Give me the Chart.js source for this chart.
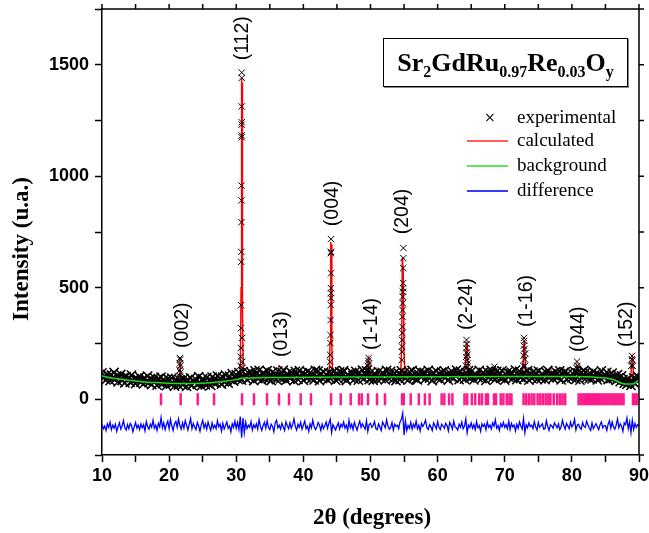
<!DOCTYPE html>
<html>
<head>
<meta charset="utf-8">
<script src="https://cdn.jsdelivr.net/npm/chart.js@4.4.0/dist/chart.umd.min.js"></script>
<style>
  body { margin: 0; background: #fff; }
  #wrap { position: relative; width: 649px; height: 533px; }
  #formula {
    position: absolute; left: 383px; top: 38px; width: 243px; height: 47px;
    border: 1px solid #000; box-shadow: 1px 1px 0 #888;
    font-family: 'Liberation Serif', serif; font-weight: bold; font-size: 26px;
    line-height: 47px; text-align: center; color: #000; background: #fff;
  }
  #formula sub { font-size: 16px; vertical-align: -6px; line-height: 0; }
  .leg { position: absolute; left: 440px; width: 200px; height: 20px;
    font-family: 'Liberation Serif', serif; font-size: 19px; color: #000; }
  .leg .txt { position: absolute; left: 77px; top: 0; line-height: 20px; }
  .leg .ln { position: absolute; left: 27px; top: 10px; width: 41px; height: 2px; }
  .leg .mk { position: absolute; left: 44px; top: 0; line-height: 20px; font-family: 'DejaVu Sans', sans-serif; font-size: 14px; }
</style>
</head>
<body>
<div id="wrap">
  <canvas id="xrd" width="649" height="533"></canvas>
  <div id="formula">Sr<sub>2</sub>GdRu<sub>0.97</sub>Re<sub>0.03</sub>O<sub>y</sub></div>
  <div class="leg" style="top:107px"><span class="mk">×</span><span class="txt">experimental</span></div>
  <div class="leg" style="top:130px"><span class="ln" style="background:#ff5c5c"></span><span class="txt">calculated</span></div>
  <div class="leg" style="top:155px"><span class="ln" style="background:#5ce65c"></span><span class="txt">background</span></div>
  <div class="leg" style="top:180px"><span class="ln" style="background:#3a3aff"></span><span class="txt">difference</span></div>
</div>
<script>
// 2theta 샘플링 (10 ~ 90도, 0.2도 간격)
const thetaStart = 10;
const thetaStep = 0.2;

// 실험 데이터 (배경 영역, 0.2도 간격)
const expCounts = [
  118, 95, 104, 87, 112,  101, 83, 109, 96, 120,  90, 105, 78, 99, 111,  84, 97, 73, 102, 89,
  95, 76, 108, 82, 91,  70, 93, 86, 101, 77,  88, 69, 95, 80, 104,  75, 91, 66, 84, 97,
  81, 63, 92, 74, 99,  70, 88, 79, 61, 93,  84, 68, 95, 72, 59,  90, 74, 63, 86, 77,
  65, 93, 79, 58, 88,  71, 96, 62, 83, 75,  88, 67, 101, 74, 60,  92, 79, 64, 97, 70,
  85, 62, 99, 76, 91,  73, 104, 80, 95, 68,  99, 78, 108, 86, 72,  104, 88, 115, 81, 97,
  110, 91, 119, 96, 86,  124, 99, 112, 88, 118,  96, 121, 105, 84, 127,  112, 93, 130, 101, 86,
  118, 95, 109, 128, 90,  103, 84, 122, 97, 113,  88, 126, 104, 92, 119,  131, 98, 85, 115, 102,
  94, 120, 107, 83, 125,  110, 89, 128, 99, 116,  85, 113, 96, 124, 102,  119, 92, 108, 87, 129,
  101, 126, 83, 114, 95,  122, 97, 111, 88, 118,  93, 115, 104, 127, 86,  109, 90, 123, 100, 117,
  128, 95, 84, 112, 103,  96, 121, 107, 89, 125,  113, 86, 118, 99, 131,  92, 110, 127, 104, 88,
  120, 98, 85, 116, 106,  89, 124, 101, 93, 119,  112, 87, 129, 97, 108,  125, 103, 91, 118, 84,
  99, 116, 88, 127, 105,  118, 94, 109, 86, 123,  102, 129, 96, 113, 90,  87, 111, 124, 99, 117,
  121, 92, 106, 130, 95,  108, 84, 119, 101, 126,  93, 115, 89, 122, 104,  127, 98, 112, 86, 118,
  100, 123, 94, 109, 131,  115, 88, 126, 97, 107,  90, 119, 103, 128, 96,  124, 101, 87, 114, 109,
  97, 130, 106, 92, 120,  111, 85, 123, 100, 116,  129, 96, 108, 89, 125,  103, 118, 94, 127, 98,
  86, 112, 121, 99, 115,  120, 93, 105, 131, 88,  107, 126, 97, 113, 91,  117, 99, 128, 86, 110,
  95, 122, 104, 118, 89,  126, 102, 91, 115, 107,  88, 119, 130, 96, 112,  114, 93, 106, 124, 99,
  101, 127, 87, 110, 121,  123, 90, 116, 98, 105,  96, 113, 125, 89, 118,  108, 86, 120, 102, 129,
  119, 97, 111, 92, 114,  91, 124, 100, 116, 87,  112, 95, 127, 103, 98,  104, 121, 88, 109, 93,
  117, 92, 101, 85, 110,  96, 79, 105, 88, 71,  84, 67, 93, 76, 62,  80, 95, 70, 88, 103,
  96
];

// 실험 데이터 (피크 부근 측정점 [2theta, 강도])
const expPeakPoints = [
  [21.55, 105], [21.58, 130], [21.6, 160], [21.62, 185], [21.64, 178], [21.66, 150], [21.69, 120],
  [30.62, 150], [30.66, 191], [30.68, 230], [30.7, 319], [30.72, 422], [30.74, 616], [30.75, 661],
  [30.77, 794], [30.78, 892], [30.79, 958], [30.8, 1175], [30.81, 1183], [30.8, 1231], [30.82, 1242],
  [30.81, 1313], [30.83, 1441], [30.82, 1465], [30.88, 275], [30.9, 168], [30.92, 140],
  [43.98, 168], [44.0, 199], [44.02, 252], [44.04, 288], [44.06, 355], [44.08, 423], [44.09, 454],
  [44.1, 476], [44.11, 498], [44.12, 565], [44.1, 655], [44.11, 661], [44.12, 718],
  [49.62, 150], [49.68, 172], [49.72, 185], [49.76, 160], [49.8, 140],
  [54.66, 176], [54.68, 213], [54.7, 236], [54.72, 266], [54.74, 297], [54.75, 325], [54.76, 370],
  [54.78, 400], [54.8, 431], [54.82, 460], [54.84, 482], [54.86, 498], [54.87, 521], [54.88, 588],
  [54.89, 633], [54.9, 678],
  [64.2, 150], [64.25, 190], [64.28, 230], [64.3, 266], [64.33, 248], [64.36, 210], [64.38, 175],
  [64.42, 145], [64.45, 200], [64.48, 160],
  [68.45, 146], [68.55, 132],
  [72.75, 150], [72.8, 195], [72.84, 240], [72.87, 275], [72.9, 262], [72.94, 225], [72.98, 180],
  [73.02, 150], [73.05, 205],
  [80.7, 140], [80.76, 169], [80.82, 150], [80.9, 135],
  [88.85, 150], [88.92, 180], [88.97, 194], [89.02, 175], [89.08, 150]
];

// 계산 패턴 (Rietveld)
const calcPoints = [
  [10, 106], [12, 97], [14, 90], [16, 84], [18, 80], [18.7, 80], [18.8, 92], [18.9, 80], [20, 77],
  [21.45, 76], [21.55, 110], [21.62, 178], [21.69, 110], [21.8, 77], [24.2, 77], [24.28, 90], [24.36, 77],
  [26, 80], [28, 86], [30, 95], [30.6, 110], [30.72, 500], [30.78, 1440], [30.82, 1100], [30.86, 1420],
  [30.92, 400], [31.05, 115], [31.3, 103], [32.55, 103], [32.64, 115], [32.73, 103], [34.5, 104],
  [34.58, 114], [34.66, 104], [36.2, 105], [36.32, 132], [36.44, 105], [37.8, 105], [37.88, 118],
  [37.96, 105], [39.5, 106], [39.6, 122], [39.7, 106], [41.1, 106], [41.15, 113], [41.2, 106],
  [43.85, 108], [43.97, 250], [44.05, 705], [44.1, 620], [44.14, 695], [44.24, 240], [44.35, 110],
  [45.45, 107], [45.56, 130], [45.67, 107], [47.0, 107], [47.05, 115], [47.1, 107], [49.45, 108],
  [49.6, 150], [49.68, 175], [49.75, 160], [49.85, 108], [50.9, 108], [50.97, 125], [51.05, 108],
  [52.1, 108], [52.16, 116], [52.22, 108], [54.5, 109], [54.65, 250], [54.74, 635], [54.8, 520],
  [54.86, 600], [55.0, 200], [55.15, 110], [55.95, 109], [56.0, 118], [56.05, 109], [64.0, 110],
  [64.2, 180], [64.3, 258], [64.36, 200], [64.42, 240], [64.55, 112], [64.7, 110], [66.2, 110],
  [66.3, 118], [66.4, 110], [68.35, 110], [68.5, 128], [68.65, 110], [72.65, 111], [72.8, 200],
  [72.88, 262], [72.93, 215], [72.99, 245], [73.1, 112], [73.3, 111], [76.9, 111], [77.0, 120],
  [77.1, 111], [80.6, 111], [80.75, 150], [80.82, 135], [81.0, 115], [81.3, 111], [84, 106],
  [86, 98], [88, 74], [88.7, 76], [88.9, 150], [89.0, 185], [89.08, 170], [89.2, 95], [89.5, 80], [90, 92]
];

// 배경 곡선
const backgroundPoints = [
  [10, 104], [12, 93], [14, 85], [16, 79], [18, 75], [20, 72], [22, 71], [24, 71], [26, 74],
  [28, 80], [30, 88], [31, 95], [34, 97], [40, 99], [50, 100], [60, 101], [70, 102], [80, 102],
  [84, 98], [86, 90], [88, 68], [89, 68], [90, 86]
];

// 차이 곡선 (실험 - 계산, 오프셋 포함)
const diffCounts = [
  -114, -132, -120, -140, -110,  -126, -102, -136, -116, -130,  -112, -144, -122, -106, -134,
  -120, -96, -128, -138, -114,  -132, -108, -118, -146, -124,  -104, -130, -116, -136, -110,
  -128, -114, -142, -100, -122,  -134, -112, -126, -94, -130,  -116, -140, -108, -124, -82,
  -128, -106, -136, -114, -98,  -132, -90, -120, -140, -110,  -100, -126, -88, -118, -134,
  -106, -130, -96, -116, -138,  -112, -86, -132, -108, -124,  -136, -104, -120, -144, -114,
  -94, -128, -110, -134, -102,  -122, -140, -106, -130, -116,  -132, -96, -124, -112, -142,
  -108, -134, -118, -102, -130,  -120, -146, -110, -126, -98,  -130, -104, -136, -78, -172,
  -84, -150, -102, -132, -116,  -126, -100, -138, -114, -128,  -110, -134, -92, -122, -140,
  -118, -104, -130, -96, -126,  -136, -112, -122, -146, -106,  -94, -128, -116, -134, -108,
  -124, -140, -102, -118, -132,  -106, -130, -114, -88, -122,  -138, -112, -126, -104, -134,
  -116, -98, -132, -120, -144,  -110, -128, -94, -122, -136,  -126, -104, -116, -140, -112,
  -132, -118, -102, -130, -108,  -90, -150, -114, -126, -138,  -120, -106, -134, -112, -124,
  -102, -130, -116, -140, -94,  -128, -112, -136, -104, -122,  -138, -116, -98, -126, -110,
  -122, -134, -96, -144, -114,  -108, -126, -118, -100, -132,  -136, -110, -124, -140, -102,
  -114, -128, -92, -120, -134,  -126, -104, -138, -112, -122,  -116, -132, -102, -90, -62,
  -160, -96, -140, -118, -130,  -104, -134, -112, -126, -98,  -132, -116, -142, -108, -122,
  -110, -94, -128, -136, -114,  -124, -140, -106, -118, -132,  -100, -126, -136, -112, -120,
  -130, -108, -118, -142, -104,  -116, -134, -98, -124, -128,  -138, -112, -126, -102, -132,
  -120, -88, -150, -116, -126,  -106, -130, -114, -136, -100,  -128, -118, -144, -110, -122,
  -112, -136, -102, -126, -116,  -134, -106, -120, -92, -130,  -118, -140, -110, -124, -104,
  -126, -114, -132, -98, -136,  -108, -124, -116, -142, -112,  -130, -102, -120, -134, -86,
  -150, -114, -128, -106, -122,  -116, -132, -100, -124, -138,  -104, -126, -118, -110, -134,
  -132, -96, -122, -140, -114,  -120, -130, -106, -116, -128,  -110, -136, -124, -94, -118,
  -134, -108, -120, -132, -102,  -124, -114, -90, -138, -116,  -112, -128, -134, -104, -122,
  -126, -98, -116, -130, -140,  -106, -132, -120, -110, -124,  -136, -114, -102, -128, -118,
  -118, -140, -112, -96, -130,  -102, -124, -134, -116, -88,  -128, -110, -120, -144, -106,
  -114, -84, -132, -102, -150,  -94, -136, -108, -126, -114,  -120
];

// 브래그 반사 위치
const braggPositions = [
  18.79, 21.72, 24.26, 26.69, 30.86, 32.64, 34.58, 36.37, 37.86, 39.6, 41.13, 44.12, 45.56,
  47.05, 48.29, 48.7, 49.63, 50.97, 52.16, 54.7, 54.95, 55.99, 57.2, 58.1, 58.8, 60.6, 61.0,
  61.7, 62.2, 64.0, 64.4, 65.1, 65.6, 66.2, 66.6, 67.2, 67.5, 68.4, 68.7, 69.4, 69.8, 70.3,
  70.7, 71.0, 72.8, 73.2, 73.6, 74.0, 74.4, 74.9, 75.3, 75.7, 76.1, 76.5, 76.8, 77.3, 77.8,
  78.2, 78.6, 79.0, 81.0, 81.3, 81.6, 81.9, 82.1, 82.4, 82.7, 83.0, 83.3, 83.6, 83.9, 84.1,
  84.4, 84.7, 85.0, 85.3, 85.6, 85.9, 86.2, 86.5, 86.8, 87.1, 87.4, 87.7, 89.1, 89.4, 89.7
];

// 피크 지수 라벨
const peakLabels = ['(002)', '(112)', '(013)', '(004)', '(1-14)', '(204)', '(2-24)', '(1-16)', '(044)', '(152)'];
const peakLabelTheta = [22.07, 30.93, 36.8, 44.4, 50.1, 54.84, 64.38, 73.3, 81.06, 88.2];
const peakLabelBase = [230, 1520, 190, 776, 221, 740, 310, 324, 212, 234];

// 축 눈금
const xTickLabels = [10, 20, 30, 40, 50, 60, 70, 80, 90];
const yTickLabels = [0, 500, 1000, 1500];

const toXY = arr => arr.map(p => ({ x: p[0], y: p[1] }));

const expData = expCounts.map((y, i) => ({ x: thetaStart + i * thetaStep, y }));
const expPeakData = toXY(expPeakPoints);
const diffData = diffCounts.map((y, i) => ({ x: thetaStart + i * thetaStep, y }));
const braggData = braggPositions.map(x => ({ x, y: 0 }));

// 상단/우측 축 + 라벨 그리기
const framePlugin = {
  id: 'frame',
  afterDatasetsDraw(chart) {
    const { ctx, scales: { x, y } } = chart;
    ctx.save();
    // 피크 라벨
    ctx.fillStyle = '#000';
    ctx.font = '19.5px "Liberation Sans", Arial, sans-serif';
    ctx.textAlign = 'left';
    ctx.textBaseline = 'middle';
    peakLabels.forEach((t, i) => {
      const px = x.getPixelForValue(peakLabelTheta[i]);
      const py = y.getPixelForValue(peakLabelBase[i]);
      ctx.save();
      ctx.translate(px, py);
      ctx.rotate(-Math.PI / 2);
      ctx.fillText(t, 0, 0);
      ctx.restore();
    });
    ctx.restore();
  },
  afterDraw(chart) {
    const { ctx, chartArea: a, scales: { x, y } } = chart;
    ctx.save();
    ctx.strokeStyle = '#000';
    ctx.lineWidth = 1.5;
    ctx.beginPath();
    ctx.moveTo(a.left, a.top); ctx.lineTo(a.right, a.top); ctx.lineTo(a.right, a.bottom);
    x.ticks.forEach(t => {
      const px = x.getPixelForValue(t.value);
      ctx.moveTo(px, a.top); ctx.lineTo(px, a.top - 5);
    });
    y.ticks.forEach(t => {
      const py = y.getPixelForValue(t.value);
      ctx.moveTo(a.right, py); ctx.lineTo(a.right + 5, py);
    });
    ctx.stroke();

    // 축 제목
    ctx.fillStyle = '#000';
    ctx.font = 'bold 23px "Liberation Serif", serif';
    ctx.textAlign = 'center';
    ctx.textBaseline = 'middle';
    ctx.fillText('2θ (degrees)', 372, 518);
    ctx.translate(22, 249);
    ctx.rotate(-Math.PI / 2);
    ctx.fillText('Intensity (u.a.)', 0, 0);
    ctx.restore();
  }
};

const tickFont = { family: 'Liberation Sans', weight: 'bold', size: 18 };

new Chart(document.getElementById('xrd'), {
  type: 'scatter',
  data: {
    datasets: [
      {
        label: 'background', data: toXY(backgroundPoints), showLine: true,
        borderColor: '#1ed81e', borderWidth: 1.5, pointRadius: 0,
        cubicInterpolationMode: 'monotone', order: 0
      },
      {
        label: 'experimental', data: expData, showLine: false,
        pointStyle: 'crossRot', pointRadius: 6.5, borderColor: '#000', borderWidth: 1.5,
        backgroundColor: '#000', order: 1
      },
      {
        label: 'experimental (peaks)', data: expPeakData, showLine: false,
        pointStyle: 'crossRot', pointRadius: 4.5, borderColor: '#000', borderWidth: 1,
        backgroundColor: '#000', order: 1
      },
      {
        label: 'calculated', data: toXY(calcPoints), showLine: true,
        borderColor: '#ff0000', borderWidth: 1.5, pointRadius: 0, tension: 0, order: 2
      },
      {
        label: 'difference', data: diffData, showLine: true,
        borderColor: '#0000ff', borderWidth: 1.3, pointRadius: 0, tension: 0, order: 3
      },
      {
        label: 'bragg', data: braggData, showLine: false,
        pointStyle: 'line', rotation: 90, pointRadius: 6, borderColor: '#ff1a8c',
        borderWidth: 2.5, order: 4
      }
    ]
  },
  options: {
    responsive: false,
    animation: false,
    events: [],
    layout: { padding: { left: 0, right: 10, top: 9, bottom: 0 } },
    plugins: { legend: { display: false }, tooltip: { enabled: false } },
    scales: {
      x: {
        type: 'linear', min: 10, max: 90,
        ticks: {
          stepSize: 5, autoSkip: false, maxRotation: 0, padding: 3, color: '#000', font: tickFont,
          callback: v => xTickLabels.includes(v) ? String(v) : ''
        },
        grid: { drawOnChartArea: false, tickLength: 7, tickColor: '#000', tickWidth: 1.5 },
        border: { color: '#000', width: 1.5 },
        afterFit: s => { s.height = 78; s.paddingLeft = 0; s.paddingRight = 0; }
      },
      y: {
        min: -250, max: 1750,
        ticks: {
          stepSize: 250, autoSkip: false, padding: 6, color: '#000', font: tickFont,
          callback: v => yTickLabels.includes(v) ? String(v) : ''
        },
        grid: { drawOnChartArea: false, tickLength: 7, tickColor: '#000', tickWidth: 1.5 },
        border: { color: '#000', width: 1.5 },
        afterFit: s => { s.width = 102; s.paddingTop = 0; s.paddingBottom = 0; }
      }
    }
  },
  plugins: [framePlugin]
});
</script>
</body>
</html>
